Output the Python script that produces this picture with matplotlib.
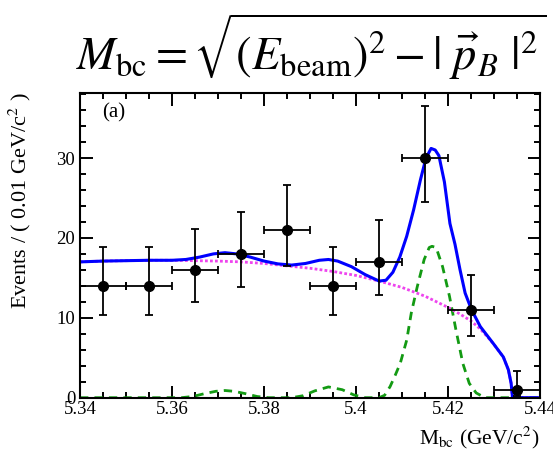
import matplotlib
matplotlib.use('Agg')
import matplotlib.pyplot as plt
from matplotlib.ticker import MultipleLocator, FixedLocator, FuncFormatter

plt.rcParams['font.family'] = ['Liberation Serif', 'DejaVu Serif']
plt.rcParams['mathtext.fontset'] = 'stix'

# binned data (bin width 0.01 GeV/c^2)
bin_centers = [5.345, 5.355, 5.365, 5.375, 5.385, 5.395, 5.405, 5.415, 5.425, 5.435]
counts = [14, 14, 16, 18, 21, 14, 17, 30, 11, 1]
err_low = [3.7, 3.7, 3.98, 4.2, 4.55, 3.7, 4.1, 5.45, 3.3, 0.83]
err_high = [4.83, 4.83, 5.1, 5.3, 5.62, 4.83, 5.2, 6.55, 4.4, 2.3]

# total fit (blue)
total_x = [5.3400, 5.3450, 5.3500, 5.3550, 5.3600, 5.3630, 5.3660, 5.3690, 5.3715,
           5.3740, 5.3770, 5.3800, 5.3830, 5.3860, 5.3890, 5.3920, 5.3940, 5.3960,
           5.3990, 5.4020, 5.4050, 5.4065, 5.4080, 5.4095, 5.4110, 5.4125, 5.4140,
           5.4152, 5.4163, 5.4172, 5.4180, 5.4192, 5.4204, 5.4215, 5.4226, 5.4237,
           5.4251, 5.4270, 5.4298, 5.4320, 5.4331, 5.4337, 5.4340, 5.4400]
total_y = [17.0, 17.1, 17.15, 17.2, 17.2, 17.3, 17.6, 18.0, 18.15,
           18.0, 17.6, 17.1, 16.75, 16.6, 16.8, 17.2, 17.3, 17.1,
           16.4, 15.4, 14.6, 14.7, 15.7, 17.6, 20.2, 23.5, 27.3,
           30.0, 31.2, 31.0, 30.3, 27.0, 21.8, 19.2, 16.0, 13.1,
           11.0, 8.9, 6.8, 5.1, 3.5, 1.8, 0.0, 0.0]

# background (magenta dotted)
bkg_x = [5.3400, 5.3450, 5.3500, 5.3550, 5.3600, 5.3650, 5.3700, 5.3750, 5.3800,
         5.3850, 5.3900, 5.3950, 5.4000, 5.4050, 5.4100, 5.4150, 5.4200, 5.4225,
         5.4250, 5.4270, 5.4298, 5.4320, 5.4331, 5.4337, 5.4340, 5.4400]
bkg_y = [17.0, 17.1, 17.15, 17.2, 17.2, 17.15, 17.1, 17.0, 16.8,
         16.5, 16.2, 15.8, 15.3, 14.6, 13.8, 12.7, 11.3, 10.5,
         9.6, 8.6, 6.8, 5.1, 3.5, 1.8, 0.0, 0.0]

# signal (green dashed)
sig_x = [5.3400, 5.3620, 5.3645, 5.3670, 5.3695, 5.3715, 5.3735, 5.3760, 5.3785,
         5.3810, 5.3860, 5.3885, 5.3910, 5.3940, 5.3970, 5.3995, 5.4020, 5.4050,
         5.4062, 5.4074, 5.4085, 5.4096, 5.4110, 5.4120, 5.4133, 5.4148, 5.4159,
         5.4165, 5.4174, 5.4188, 5.4203, 5.4217, 5.4232, 5.4246, 5.4261, 5.4280,
         5.4400]
sig_y = [0.0, 0.0, 0.15, 0.5, 0.8, 0.9, 0.8, 0.5, 0.15,
         0.0, 0.0, 0.25, 0.85, 1.35, 1.0, 0.35, 0.0, 0.0,
         0.3, 1.4, 2.8, 4.3, 7.2, 10.6, 13.9, 17.3, 18.8,
         18.95, 18.8, 16.4, 12.7, 8.5, 4.3, 1.8, 0.6, 0.0,
         0.0]

x_ticks = [5.34, 5.36, 5.38, 5.40, 5.42, 5.44]

fig = plt.figure(figsize=(5.53, 4.54), dpi=100)
ax = fig.add_axes([0.1447, 0.124, 0.832, 0.6705])

ax.plot(sig_x, sig_y, color='#139a13', lw=2.0, dashes=(3, 2.2), zorder=2)
ax.plot(bkg_x, bkg_y, color='#ee44ee', lw=2.0, ls=(0, (1, 0.8)), zorder=2.1)
ax.plot(total_x, total_y, color='#0000ff', lw=2.2, zorder=2.2)
ax.errorbar(bin_centers, counts, xerr=0.005, yerr=[err_low, err_high], fmt='o',
            color='black', ms=7, capsize=2.8, elinewidth=1.3, capthick=1.3, zorder=3)

ax.set_xlim(5.34, 5.44)
ax.set_ylim(0, 38.1)
ax.xaxis.set_major_locator(FixedLocator(x_ticks))
ax.xaxis.set_minor_locator(MultipleLocator(0.005))
ax.xaxis.set_major_formatter(FuncFormatter(lambda v, p: '%g' % round(v, 2)))
ax.yaxis.set_major_locator(MultipleLocator(10))
ax.yaxis.set_minor_locator(MultipleLocator(2))
ax.tick_params(which='both', direction='in', top=True, right=True, width=1.4,
               labelsize=13.5, colors='black')
ax.tick_params(which='major', length=9)
ax.tick_params(which='minor', length=4.5)
ax.tick_params(axis='x', pad=2.5)
for s in ax.spines.values():
    s.set_linewidth(1.5)

ax.text(5.3448, 35.6, '(a)', fontsize=15, va='center', ha='left')

fig.text(0.036, 0.797, 'Events / ( 0.01 GeV/c$^{2}$ )', rotation=90,
         ha='center', va='top', fontsize=16)
fig.text(0.975, 0.035, r'M$_{\rm bc}$ (GeV/c$^{2}$)', ha='right', va='center',
         fontsize=15.5)

fig.text(0.562, 0.897,
         r'$M_{\rm bc} = \sqrt{(E_{\rm beam})^2 - |\ \vec{p}_B\ |^2}$',
         ha='center', va='center', fontsize=33.5)

fig.savefig('out.png', dpi=100)
